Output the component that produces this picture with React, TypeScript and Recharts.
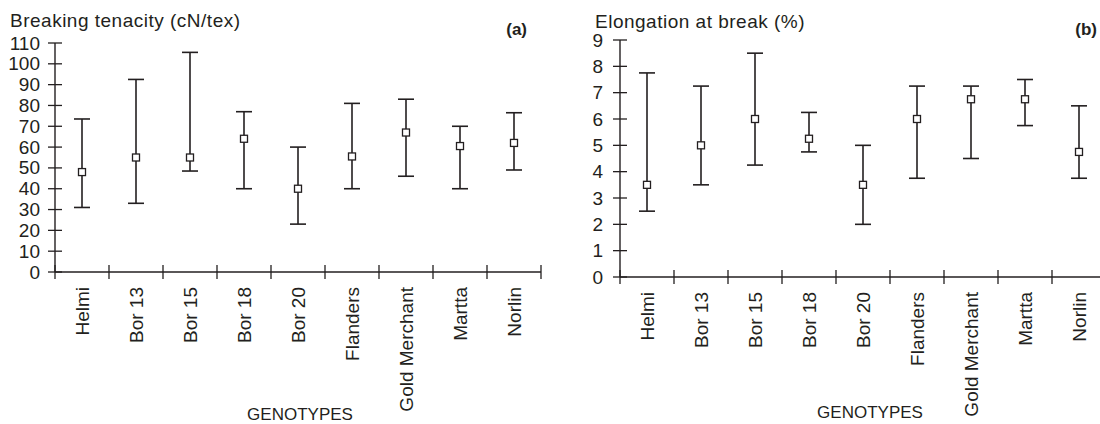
import React from "react";
import { ComposedChart, Scatter, ErrorBar, XAxis, YAxis } from "recharts";

const genotypes = ["Helmi", "Bor 13", "Bor 15", "Bor 18", "Bor 20", "Flanders", "Gold Merchant", "Martta", "Norlin"];

// (a) breaking tenacity, cN/tex
const tenacityMean = [48, 55, 55, 64, 40, 55.5, 67, 60.5, 62];
const tenacityLow = [31, 33, 48.5, 40, 23, 40, 46, 40, 49];
const tenacityHigh = [73.5, 92.5, 105.5, 77, 60, 81, 83, 70, 76.5];
const tenacityTicks = [0, 10, 20, 30, 40, 50, 60, 70, 80, 90, 100, 110];

// (b) elongation at break, %
const elongMean = [3.5, 5, 6, 5.25, 3.5, 6, 6.75, 6.75, 4.75];
const elongLow = [2.5, 3.5, 4.25, 4.75, 2, 3.75, 4.5, 5.75, 3.75];
const elongHigh = [7.75, 7.25, 8.5, 6.25, 5, 7.25, 7.25, 7.5, 6.5];
const elongTicks = [0, 1, 2, 3, 4, 5, 6, 7, 8, 9];

const INK = "#231f20";
const FONT = "'Liberation Sans', Arial, Helvetica, sans-serif";

// boundaries on whole numbers, labels on the halves
const xTicks: number[] = [];
for (let i = 0; i <= genotypes.length; i++) {
  xTicks.push(i);
  if (i < genotypes.length) xTicks.push(i + 0.5);
}

const rows = (mean: number[], low: number[], high: number[]) =>
  genotypes.map((name, i) => ({
    name,
    pos: i + 0.5,
    mean: mean[i],
    err: [mean[i] - low[i], high[i] - mean[i]],
  }));

const XTick = (props: any) => {
  const { x, y, payload } = props;
  const v = payload.value;
  if (Number.isInteger(v)) {
    return <line x1={x} x2={x} y1={y - 7} y2={y + 7} stroke={INK} strokeWidth={1.3} />;
  }
  const name = genotypes[Math.floor(v)];
  const ty = y + 15;
  return (
    <text
      x={x}
      y={ty}
      transform={`rotate(-90 ${x} ${ty})`}
      textAnchor="end"
      dominantBaseline="central"
      fill={INK}
      fontSize={19}
      fontFamily={FONT}
    >
      {name}
    </text>
  );
};

const makeYTick = (gap: number) => (props: any) => {
  const { x, y, payload } = props;
  return (
    <g>
      <line x1={x - 7} x2={x + 7} y1={y} y2={y} stroke={INK} strokeWidth={1.3} />
      <text x={x - gap} y={y} textAnchor="end" dominantBaseline="central" fill={INK} fontSize={19} fontFamily={FONT}>
        {payload.value}
      </text>
    </g>
  );
};

const Square = (p: any) => (
  <rect x={p.cx - 3.5} y={p.cy - 3.5} width={7} height={7} fill="#fff" stroke={INK} strokeWidth={1.3} />
);

type PanelProps = {
  data: ReturnType<typeof rows>;
  ticks: number[];
  max: number;
  width: number;
  top: number;
  bottom: number;
  axisWidth: number;
  gap: number;
};

function Panel({ data, ticks, max, width, top, bottom, axisWidth, gap }: PanelProps) {
  return (
    <ComposedChart width={width} height={424} data={data} margin={{ top, right: 4, bottom: 0, left: 0 }}>
      <XAxis
        dataKey="pos"
        type="number"
        domain={[0, genotypes.length]}
        ticks={xTicks}
        interval={0}
        tick={<XTick />}
        tickLine={false}
        tickSize={0}
        tickMargin={0}
        axisLine={{ stroke: INK, strokeWidth: 1.4 }}
        height={bottom}
      />
      <YAxis
        type="number"
        domain={[0, max]}
        ticks={ticks}
        interval={0}
        tick={makeYTick(gap)}
        tickLine={false}
        tickSize={0}
        tickMargin={0}
        axisLine={{ stroke: INK, strokeWidth: 1.4 }}
        width={axisWidth}
      />
      <Scatter dataKey="mean" shape={<Square />} isAnimationActive={false}>
        <ErrorBar dataKey="err" direction="y" width={8} stroke={INK} strokeWidth={1.6} isAnimationActive={false} />
      </Scatter>
    </ComposedChart>
  );
}

export default function App() {
  const textStyle = { fill: INK, fontFamily: FONT };
  return (
    <div style={{ position: "absolute", left: 0, top: 0, width: 1100, height: 424, overflow: "hidden", background: "#fff" }}>
      <div style={{ position: "absolute", left: 0, top: 0 }}>
        <Panel
          data={rows(tenacityMean, tenacityLow, tenacityHigh)}
          ticks={tenacityTicks}
          max={110}
          width={545}
          top={43}
          bottom={152}
          axisWidth={55}
          gap={15}
        />
      </div>
      <div style={{ position: "absolute", left: 560, top: 0 }}>
        <Panel
          data={rows(elongMean, elongLow, elongHigh)}
          ticks={elongTicks}
          max={9}
          width={550}
          top={40}
          bottom={147}
          axisWidth={60}
          gap={17}
        />
      </div>
      <svg width={1100} height={424} style={{ position: "absolute", left: 0, top: 0, pointerEvents: "none" }}>
        <text x={10} y={27} fontSize={19} letterSpacing={0.5} {...textStyle}>Breaking tenacity (cN/tex)</text>
        <text x={527} y={35} fontSize={17} fontWeight="bold" textAnchor="end" {...textStyle}>(a)</text>
        <text x={300} y={420} fontSize={17} textAnchor="middle" {...textStyle}>GENOTYPES</text>
        <text x={595} y={28} fontSize={19} letterSpacing={0.5} {...textStyle}>Elongation at break (%)</text>
        <text x={1097} y={35} fontSize={17} fontWeight="bold" textAnchor="end" {...textStyle}>(b)</text>
        <text x={870} y={418} fontSize={17} textAnchor="middle" {...textStyle}>GENOTYPES</text>
      </svg>
    </div>
  );
}
